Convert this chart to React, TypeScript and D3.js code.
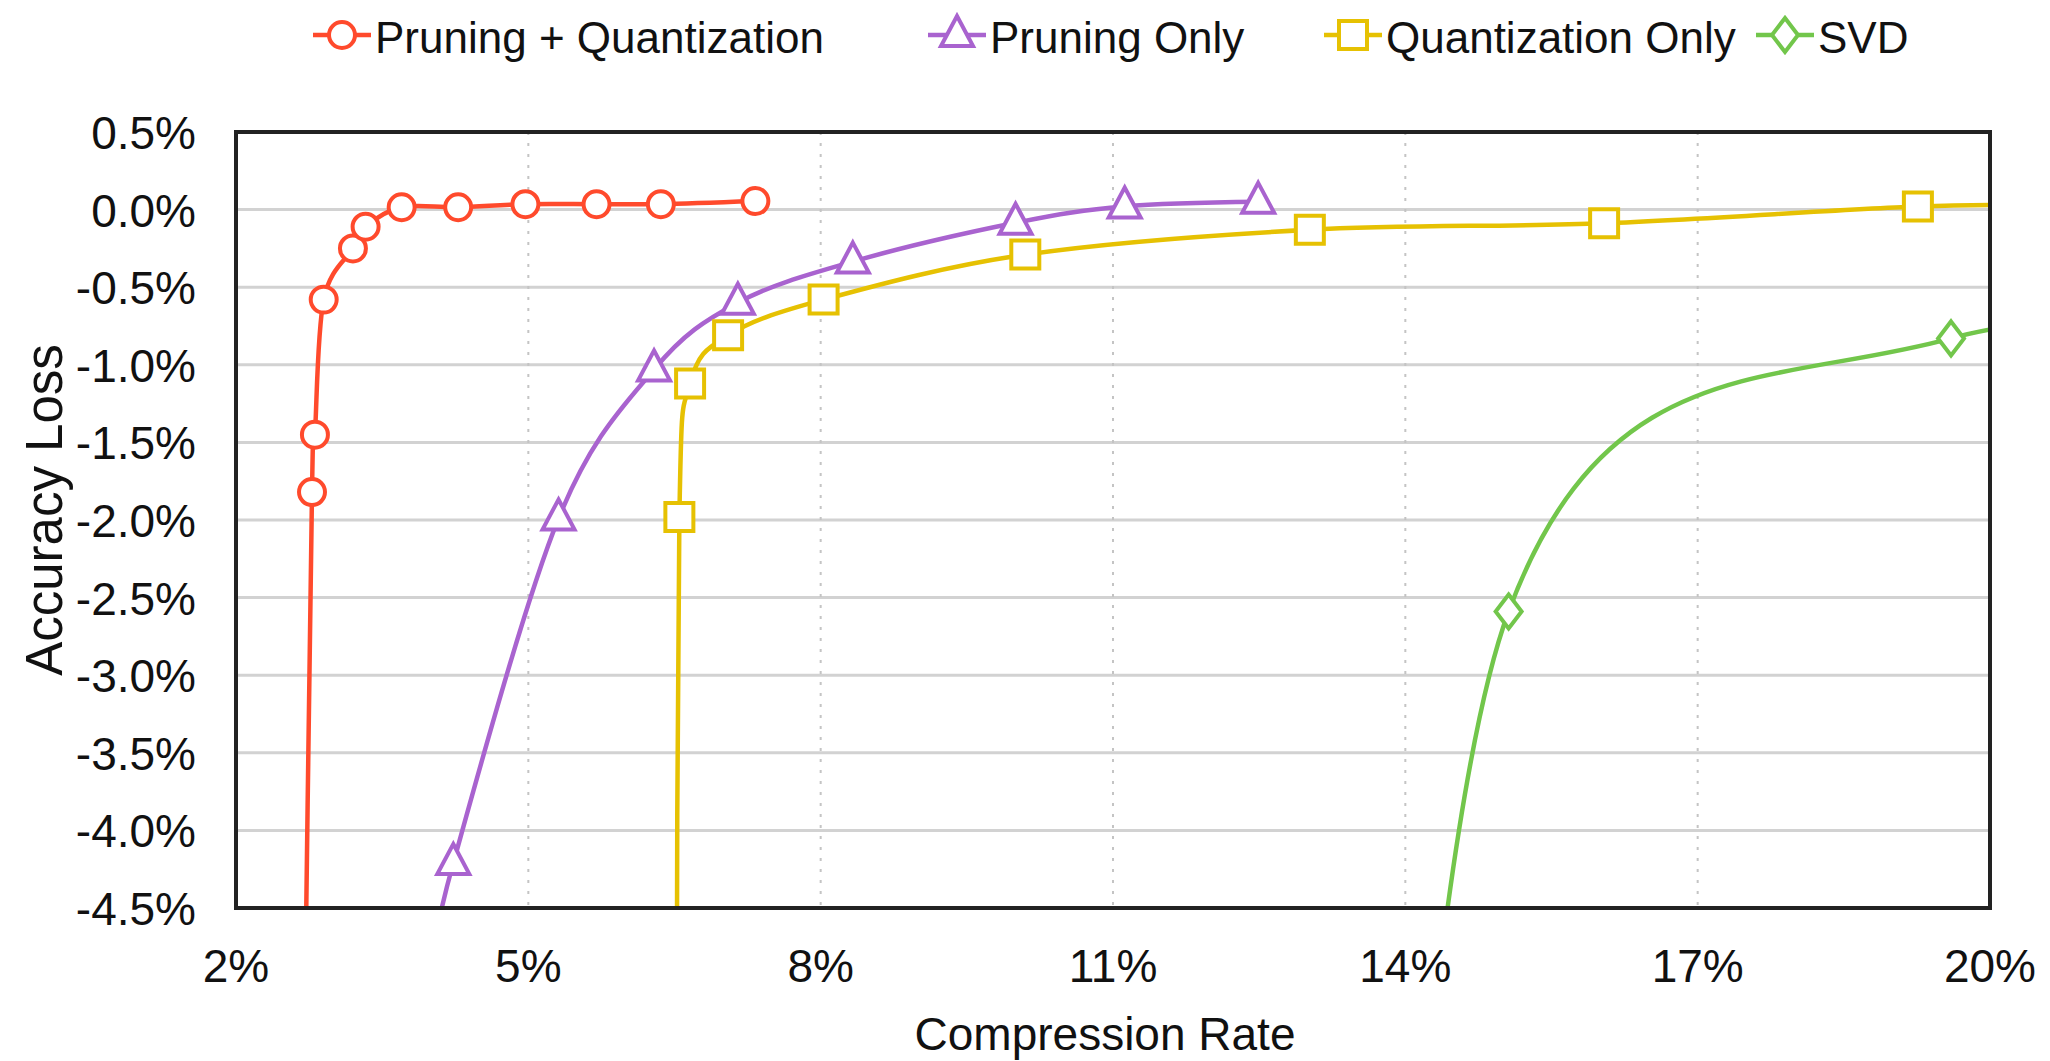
import React, {useEffect, useRef} from 'react';
import * as d3 from 'd3';

const WIDTH = 2050;
const HEIGHT = 1061;
const margin = {top: 132, right: 60, bottom: 153, left: 236};
const FONT = '\'Liberation Sans\', Arial, Helvetica, sans-serif';

// compression rate (%) vs accuracy loss (%)
// the first point of a series (and the last one for two of them) lies past the axes,
// the lines run off the plot there just like in the original figure
const pqX = [2.69, 2.78, 2.81, 2.90, 3.20, 3.33, 3.70, 4.28, 4.97, 5.70, 6.36, 7.33];
const pqY = [-6.0, -1.82, -1.45, -0.58, -0.25, -0.11, 0.015, 0.015, 0.035, 0.035, 0.035, 0.055];

const pruneX = [3.97, 4.23, 5.31, 6.29, 7.15, 8.33, 10.0, 11.12, 12.49];
const pruneY = [-5.0, -4.21, -1.99, -1.03, -0.60, -0.335, -0.085, 0.02, 0.05];

const quantX = [6.52, 6.55, 6.66, 7.05, 8.03, 10.10, 13.02, 16.04, 19.26, 21.0];
const quantY = [-6.0, -1.98, -1.12, -0.81, -0.58, -0.29, -0.13, -0.088, 0.02, 0.025];

const svdX = [13.6, 15.06, 19.6, 26.0];
const svdY = [-11.0, -2.59, -0.83, -0.7];

const xTicks = [2, 5, 8, 11, 14, 17, 20];
const xTickLabels = ['2%', '5%', '8%', '11%', '14%', '17%', '20%'];
const yTicks = [0.5, 0, -0.5, -1, -1.5, -2, -2.5, -3, -3.5, -4, -4.5];
const yTickLabels = ['0.5%', '0.0%', '-0.5%', '-1.0%', '-1.5%', '-2.0%', '-2.5%', '-3.0%', '-3.5%', '-4.0%', '-4.5%'];

const series = [
  {name: 'Pruning + Quantization', xs: pqX, ys: pqY, color: '#ff4a2c', shape: 'circle'},
  {name: 'Pruning Only', xs: pruneX, ys: pruneY, color: '#a963cf', shape: 'triangle'},
  {name: 'Quantization Only', xs: quantX, ys: quantY, color: '#e6c102', shape: 'square'},
  {name: 'SVD', xs: svdX, ys: svdY, color: '#72c64b', shape: 'diamond'},
];
const legendX = [342, 957, 1353, 1785];

function markerPath(shape) {
  if (shape === 'circle') return d3.symbol(d3.symbolCircle, 530)();
  if (shape === 'square') return d3.symbol(d3.symbolSquare, 784)();
  if (shape === 'triangle') return 'M0,-19L16,11L-16,11Z';
  return 'M0,-17L13,0L0,17L-13,0Z';
}

function Chart() {
  const ref = useRef(null);

  useEffect(() => {
    const svg = d3.select(ref.current);
    svg.selectAll('*').remove();

    const x = d3.scaleLinear().domain([2, 20]).range([margin.left, WIDTH - margin.right]);
    const y = d3.scaleLinear().domain([-4.5, 0.5]).range([HEIGHT - margin.bottom, margin.top]);
    const [x0, x1] = x.range();
    const [y0, y1] = y.range();

    svg.append('defs').append('clipPath').attr('id', 'plot-clip')
        .append('rect')
        .attr('x', x0).attr('y', y1)
        .attr('width', x1 - x0).attr('height', y0 - y1);

    // grid
    svg.append('g').selectAll('line')
        .data(yTicks.slice(1, -1))
        .enter().append('line')
        .attr('x1', x0).attr('x2', x1)
        .attr('y1', (d) => y(d)).attr('y2', (d) => y(d))
        .attr('stroke', '#d2d2d2')
        .attr('stroke-width', 3);

    svg.append('g').selectAll('line')
        .data(xTicks.slice(1, -1))
        .enter().append('line')
        .attr('x1', (d) => x(d)).attr('x2', (d) => x(d))
        .attr('y1', y1).attr('y2', y0)
        .attr('stroke', '#c4c4c4')
        .attr('stroke-width', 2)
        .attr('stroke-dasharray', '3 8');

    // curves
    const line = d3.line()
        .x((d) => x(d[0]))
        .y((d) => y(d[1]))
        .curve(d3.curveCatmullRom.alpha(0));

    const plot = svg.append('g').attr('clip-path', 'url(#plot-clip)');
    series.forEach((s) => {
      const pts = s.xs.map((v, i) => [v, s.ys[i]]);
      plot.append('path')
          .attr('d', line(pts))
          .attr('fill', 'none')
          .attr('stroke', s.color)
          .attr('stroke-width', 4.5);
    });

    // frame
    svg.append('rect')
        .attr('x', x0).attr('y', y1)
        .attr('width', x1 - x0).attr('height', y0 - y1)
        .attr('fill', 'none')
        .attr('stroke', '#222')
        .attr('stroke-width', 4);

    // markers
    series.forEach((s) => {
      const pts = s.xs.map((v, i) => [v, s.ys[i]])
          .filter((d) => d[0] >= 2 && d[0] <= 20 && d[1] >= -4.5 && d[1] <= 0.5);
      svg.append('g').selectAll('path')
          .data(pts)
          .enter().append('path')
          .attr('transform', (d) => `translate(${x(d[0])},${y(d[1])})`)
          .attr('d', markerPath(s.shape))
          .attr('fill', 'white')
          .attr('stroke', s.color)
          .attr('stroke-width', 4);
    });

    // tick labels
    svg.append('g').selectAll('text')
        .data(yTicks)
        .enter().append('text')
        .attr('x', 196)
        .attr('y', (d) => y(d) + 17)
        .attr('text-anchor', 'end')
        .attr('font-family', FONT)
        .attr('font-size', 46)
        .attr('fill', '#111')
        .text((d, i) => yTickLabels[i]);

    svg.append('g').selectAll('text')
        .data(xTicks)
        .enter().append('text')
        .attr('x', (d) => x(d))
        .attr('y', 982)
        .attr('text-anchor', 'middle')
        .attr('font-family', FONT)
        .attr('font-size', 46)
        .attr('fill', '#111')
        .text((d, i) => xTickLabels[i]);

    // axis titles
    svg.append('text')
        .attr('x', (x0 + x1) / 2 - 8)
        .attr('y', 1050)
        .attr('text-anchor', 'middle')
        .attr('font-family', FONT)
        .attr('font-size', 46)
        .attr('fill', '#111')
        .text('Compression Rate');

    svg.append('text')
        .attr('transform', `translate(62,${(y0 + y1) / 2 - 10}) rotate(-90)`)
        .attr('text-anchor', 'middle')
        .attr('font-family', FONT)
        .attr('font-size', 51)
        .attr('fill', '#111')
        .text('Accuracy Loss');

    // legend
    const legend = svg.append('g').selectAll('g')
        .data(series)
        .enter().append('g')
        .attr('transform', (d, i) => `translate(${legendX[i]},35)`);

    legend.append('line')
        .attr('x1', -29).attr('x2', 29)
        .attr('stroke', (d) => d.color)
        .attr('stroke-width', 4.5);

    legend.append('path')
        .attr('d', (d) => markerPath(d.shape))
        .attr('fill', 'white')
        .attr('stroke', (d) => d.color)
        .attr('stroke-width', 4);

    legend.append('text')
        .attr('x', 33)
        .attr('y', 18)
        .attr('font-family', FONT)
        .attr('font-size', 44)
        .attr('fill', '#111')
        .text((d) => d.name);
  }, []);

  return (
    <svg ref={ref} width={WIDTH} height={HEIGHT}
      style={{position: 'absolute', left: 0, top: 0, display: 'block', background: 'white'}}/>
  );
}

export default function App() {
  return <Chart/>;
}
